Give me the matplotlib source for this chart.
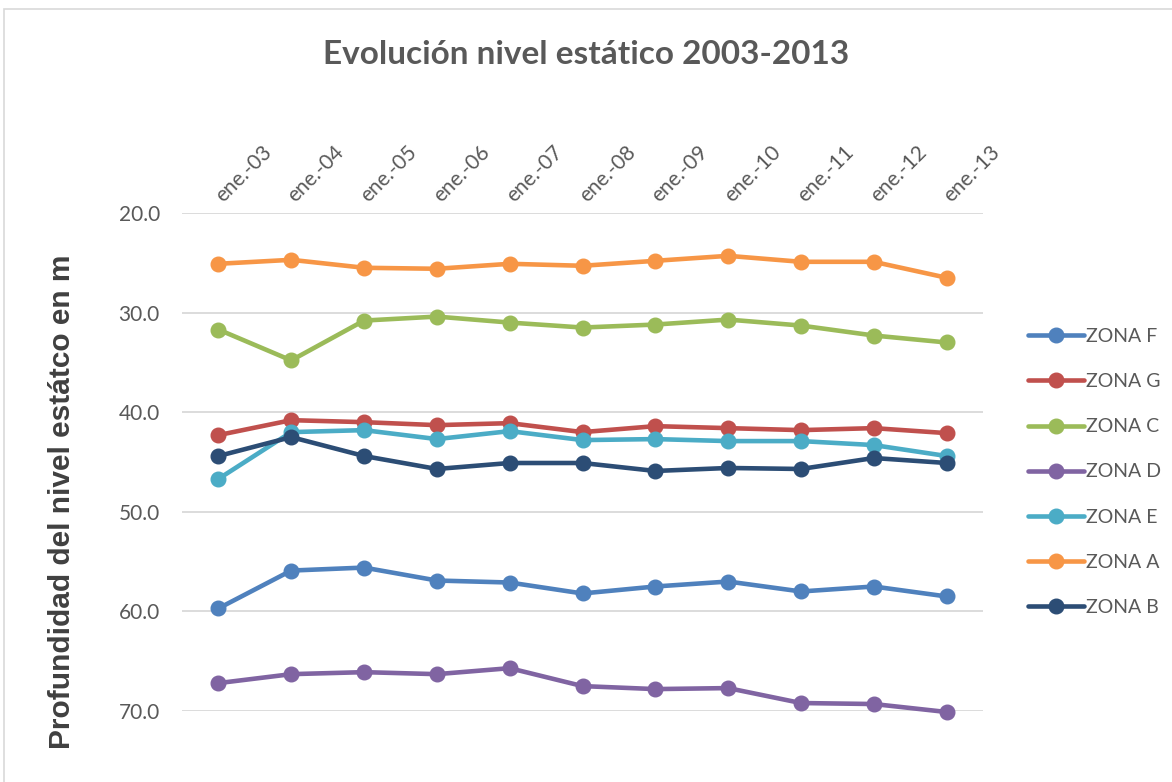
import matplotlib.pyplot as plt
from matplotlib.patches import Rectangle

months = ["ene.-03", "ene.-04", "ene.-05", "ene.-06", "ene.-07", "ene.-08",
          "ene.-09", "ene.-10", "ene.-11", "ene.-12", "ene.-13"]

zona_f = [59.7, 55.9, 55.6, 56.9, 57.1, 58.2, 57.5, 57.0, 58.0, 57.5, 58.5]
zona_g = [42.3, 40.8, 41.0, 41.3, 41.1, 42.0, 41.4, 41.6, 41.8, 41.6, 42.1]
zona_c = [31.7, 34.8, 30.8, 30.4, 31.0, 31.5, 31.2, 30.7, 31.3, 32.3, 33.0]
zona_d = [67.2, 66.3, 66.1, 66.3, 65.7, 67.5, 67.8, 67.7, 69.2, 69.3, 70.1]
zona_e = [46.7, 42.0, 41.8, 42.7, 41.9, 42.8, 42.7, 42.9, 42.9, 43.3, 44.4]
zona_a = [25.1, 24.7, 25.5, 25.6, 25.1, 25.3, 24.8, 24.3, 24.9, 24.9, 26.5]
zona_b = [44.4, 42.5, 44.4, 45.7, 45.1, 45.1, 45.9, 45.6, 45.7, 44.6, 45.1]

series = [
    ("ZONA F", zona_f, "#4F81BD"),
    ("ZONA G", zona_g, "#C0504D"),
    ("ZONA C", zona_c, "#9BBB59"),
    ("ZONA D", zona_d, "#8064A2"),
    ("ZONA E", zona_e, "#4BACC6"),
    ("ZONA A", zona_a, "#F79646"),
    ("ZONA B", zona_b, "#2C4D75"),
]

grey_text = "#595959"

fig = plt.figure(figsize=(11.72, 7.82), dpi=100)
fig.patches.append(Rectangle((4 / 1172, -0.1), 1.2, (782 - 9) / 782 + 0.1,
                             transform=fig.transFigure, fill=False,
                             edgecolor="#D9D9D9", linewidth=1.2))

ax = fig.add_axes([182 / 1172, 1 - 711 / 782, (983 - 182) / 1172, (711 - 213) / 782])
x = list(range(len(months)))
for name, values, color in series:
    ax.plot(x, values, color=color, linewidth=3.3, marker="o", markersize=10.5,
            solid_capstyle="round", label=name, clip_on=False)

ax.set_ylim(70, 20)
ax.set_xlim(-0.5, len(months) - 0.5)
ax.set_yticks([20, 30, 40, 50, 60, 70])
ax.set_yticklabels([f"{v:.1f}" for v in [20, 30, 40, 50, 60, 70]])
ax.grid(axis="y", color="#D9D9D9", linewidth=1.3)
ax.set_axisbelow(True)
for s in ax.spines.values():
    s.set_visible(False)

ax.xaxis.tick_top()
ax.set_xticks(x)
ax.set_xticklabels(months, rotation=45, ha="left", va="center",
                   rotation_mode="anchor", fontsize=15, color=grey_text,
                   family="Lato")
ax.tick_params(axis="x", length=0, pad=10)
ax.tick_params(axis="y", length=0, pad=16, labelsize=15, labelcolor=grey_text)
for lab in ax.get_yticklabels():
    lab.set_family("Lato")

fig.text(0.5, 1 - 55 / 782, "Evolución nivel estático 2003-2013",
         ha="center", va="center", fontsize=24, fontweight="bold",
         color=grey_text, family="Lato")
fig.text(62 / 1172, 1 - 502 / 782, "Profundidad del nivel estátco en m",
         ha="center", va="center", rotation=90, fontsize=21.5,
         fontweight="bold", color="#404040", family="Liberation Sans")

fig.legend(loc="center left", bbox_to_anchor=(1010 / 1172, 1 - 472 / 782),
           frameon=False, labelcolor=grey_text,
           handlelength=2.9, handletextpad=0.1, labelspacing=1.45,
           prop={"family": "Lato", "size": 14})

fig.savefig("out.png", dpi=100)
